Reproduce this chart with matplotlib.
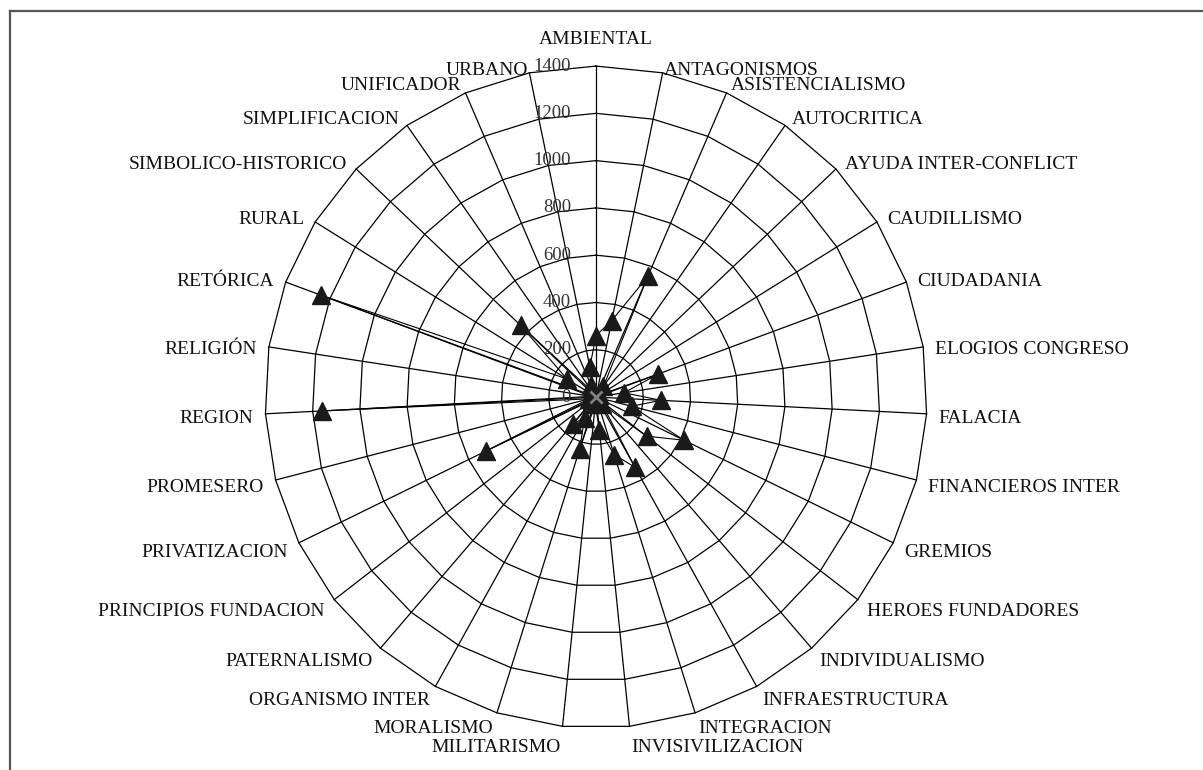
import numpy as np
import matplotlib
matplotlib.use("Agg")
import matplotlib.pyplot as plt
from matplotlib.lines import Line2D
from matplotlib.transforms import offset_copy

categories = [
    "AMBIENTAL", "ANTAGONISMOS", "ASISTENCIALISMO", "AUTOCRITICA",
    "AYUDA INTER-CONFLICT", "CAUDILLISMO", "CIUDADANIA", "ELOGIOS CONGRESO",
    "FALACIA", "FINANCIEROS INTER", "GREMIOS", "HEROES FUNDADORES",
    "INDIVIDUALISMO", "INFRAESTRUCTURA", "INTEGRACION", "INVISIVILIZACION",
    "MILITARISMO", "MORALISMO", "ORGANISMO INTER", "PATERNALISMO",
    "PRINCIPIOS FUNDACION", "PRIVATIZACION", "PROMESERO", "REGION",
    "RELIGIÓN", "RETÓRICA", "RURAL", "SIMBOLICO-HISTORICO",
    "SIMPLIFICACION", "UNIFICADOR", "URBANO",
]
values = [
    260, 330, 555, 55,
    20, 15, 280, 120,
    275, 155, 415, 270,
    40, 340, 255, 140,
    30, 230, 100, 150,
    20, 520, 30, 1160,
    20, 1240, 145, 440,
    30, 55, 130,
]
ticks = [0, 200, 400, 600, 800, 1000, 1200, 1400]

plt.rcParams["font.family"] = ["Liberation Serif", "DejaVu Serif"]

fig = plt.figure(figsize=(12.03, 7.70), dpi=100)
ax = fig.add_axes([0.2203, 0.0545, 0.5503, 0.8597], projection="polar")
ax.set_theta_zero_location("N")
ax.set_theta_direction(-1)
ax.set_ylim(0, ticks[-1])
ax.grid(False)
ax.spines["polar"].set_visible(False)
ax.set_xticks([])
ax.set_yticks([])
ax.patch.set_alpha(0)

n = len(categories)
angles = np.arange(n) * 2 * np.pi / n
closed = np.append(angles, angles[0])

# polygon grid rings and spokes
for t in ticks[1:]:
    ax.plot(closed, [t] * (n + 1), color="black", lw=0.9, zorder=1, clip_on=False)
for a in angles:
    ax.plot([a, a], [0, ticks[-1]], color="black", lw=0.9, zorder=1, clip_on=False)

# data series
ax.plot(closed, values + [values[0]], color="black", lw=0.8, zorder=3, clip_on=False)
ax.plot(angles, values, ls="none", marker="^", ms=13, color="#1a1a1a", zorder=4,
        clip_on=False)
ax.plot([0], [0], ls="none", marker="x", ms=9, mew=2, color="#808080", zorder=5,
        clip_on=False)

# category labels
lab_tr = offset_copy(ax.transData, fig=fig, x=0, y=-4, units="dots")
for a, lab in zip(angles, categories):
    s, c = np.sin(a), np.cos(a)
    r = 1451
    if abs(s) < 0.05:
        ha, r = "center", 1530
    elif s > 0:
        ha = "left"
    else:
        ha = "right"
    if abs(s) >= 0.05 and abs(s) < 0.25:
        r = r - 25 if c > 0 else r + 22
    ax.text(a, r, lab, ha=ha, va="center", fontsize=14, color="#111111",
            transform=lab_tr, clip_on=False)

# value tick labels
tr = offset_copy(ax.transData, fig=fig, x=-25, y=0, units="dots")
for t in ticks:
    ax.text(0, t, str(t), transform=tr, ha="right", va="center",
            fontsize=13.5, color="#333333", clip_on=False)

# frame lines (top and left)
fig.add_artist(Line2D([10 / 1203, 1.0], [1 - 11 / 770, 1 - 11 / 770],
                      transform=fig.transFigure, color="#555555", lw=1.6))
fig.add_artist(Line2D([10 / 1203, 10 / 1203], [0.0, 1 - 11 / 770],
                      transform=fig.transFigure, color="#555555", lw=1.6))

fig.savefig("out.png", dpi=100, facecolor="white")
